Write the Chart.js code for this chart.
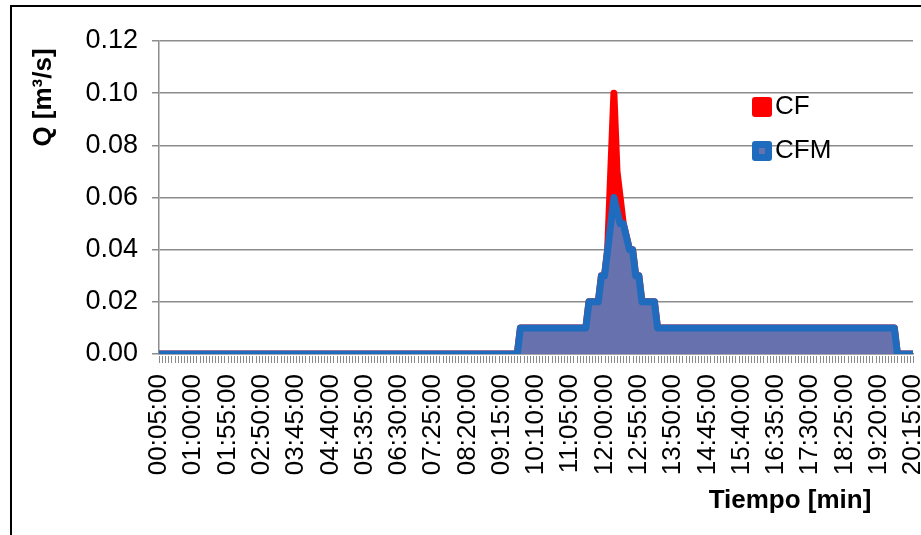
<!DOCTYPE html>
<html>
<head>
<meta charset="utf-8">
<title>Q [m³/s]</title>
<script src="https://cdn.jsdelivr.net/npm/chart.js@4.4.1/dist/chart.umd.min.js"></script>
<style>
  html, body { margin: 0; padding: 0; background: #ffffff; }
  #wrap { width: 921px; height: 535px; }
</style>
</head>
<body>
<div id="wrap"><canvas id="c" width="921" height="535"></canvas></div>
<script>
// ---- data -------------------------------------------------------------
// time axis: every 5 minutes from 00:05:00 to 20:15:00 (243 steps)
const startMinute = 5;
const stepMinutes = 5;
const stepCount = 243;
const times = [];
for (let k = 0; k < stepCount; k++) {
  const m = startMinute + k * stepMinutes;
  const hh = String(Math.floor(m / 60)).padStart(2, '0');
  const mm = String(m % 60).padStart(2, '0');
  times.push(hh + ':' + mm + ':00');
}
const labelEvery = 11;                       // one printed label every 55 min
const qTicks = [0, 0.02, 0.04, 0.06, 0.08, 0.10, 0.12];

// CF series, m³/s
const cf = [
  0,0,0,0,0,0,0,0,0,0,0,0,0,0,0,0,0,0,0,0,
  0,0,0,0,0,0,0,0,0,0,0,0,0,0,0,0,0,0,0,0,
  0,0,0,0,0,0,0,0,0,0,0,0,0,0,0,0,0,0,0,0,
  0,0,0,0,0,0,0,0,0,0,0,0,0,0,0,0,0,0,0,0,
  0,0,0,0,0,0,0,0,0,0,0,0,0,0,0,0,0,0,0,0,
  0,0,0,0,0,0,0,0,0,0,0,0,0,0,0,0,0.01,0.01,0.01,0.01,
  0.01,0.01,0.01,0.01,0.01,0.01,0.01,0.01,0.01,0.01,0.01,0.01,0.01,0.01,0.01,0.01,0.01,0.01,0.02,0.02,
  0.02,0.02,0.03,0.03,0.04,0.07,0.10,0.07,0.06,0.05,0.045,0.04,0.04,0.03,0.03,0.02,0.02,0.02,0.02,0.02,
  0.01,0.01,0.01,0.01,0.01,0.01,0.01,0.01,0.01,0.01,0.01,0.01,0.01,0.01,0.01,0.01,0.01,0.01,0.01,0.01,
  0.01,0.01,0.01,0.01,0.01,0.01,0.01,0.01,0.01,0.01,0.01,0.01,0.01,0.01,0.01,0.01,0.01,0.01,0.01,0.01,
  0.01,0.01,0.01,0.01,0.01,0.01,0.01,0.01,0.01,0.01,0.01,0.01,0.01,0.01,0.01,0.01,0.01,0.01,0.01,0.01,
  0.01,0.01,0.01,0.01,0.01,0.01,0.01,0.01,0.01,0.01,0.01,0.01,0.01,0.01,0.01,0.01,0.01,0,0,0,
  0,0,0
];

// CFM series, m³/s
const cfm = [
  0,0,0,0,0,0,0,0,0,0,0,0,0,0,0,0,0,0,0,0,
  0,0,0,0,0,0,0,0,0,0,0,0,0,0,0,0,0,0,0,0,
  0,0,0,0,0,0,0,0,0,0,0,0,0,0,0,0,0,0,0,0,
  0,0,0,0,0,0,0,0,0,0,0,0,0,0,0,0,0,0,0,0,
  0,0,0,0,0,0,0,0,0,0,0,0,0,0,0,0,0,0,0,0,
  0,0,0,0,0,0,0,0,0,0,0,0,0,0,0,0,0.01,0.01,0.01,0.01,
  0.01,0.01,0.01,0.01,0.01,0.01,0.01,0.01,0.01,0.01,0.01,0.01,0.01,0.01,0.01,0.01,0.01,0.01,0.02,0.02,
  0.02,0.02,0.03,0.03,0.04,0.05,0.06,0.055,0.05,0.05,0.045,0.04,0.04,0.03,0.03,0.02,0.02,0.02,0.02,0.02,
  0.01,0.01,0.01,0.01,0.01,0.01,0.01,0.01,0.01,0.01,0.01,0.01,0.01,0.01,0.01,0.01,0.01,0.01,0.01,0.01,
  0.01,0.01,0.01,0.01,0.01,0.01,0.01,0.01,0.01,0.01,0.01,0.01,0.01,0.01,0.01,0.01,0.01,0.01,0.01,0.01,
  0.01,0.01,0.01,0.01,0.01,0.01,0.01,0.01,0.01,0.01,0.01,0.01,0.01,0.01,0.01,0.01,0.01,0.01,0.01,0.01,
  0.01,0.01,0.01,0.01,0.01,0.01,0.01,0.01,0.01,0.01,0.01,0.01,0.01,0.01,0.01,0.01,0.01,0,0,0,
  0,0,0
];

const seriesNames = ['CF', 'CFM'];
const xTitle = 'Tiempo [min]';
const yTitle = 'Q [m³/s]';

// ---- styling ----------------------------------------------------------
const FONT = '"Liberation Sans", Arial, Helvetica, sans-serif';
Chart.defaults.font.family = FONT;
Chart.defaults.color = '#000000';

const canvas = document.getElementById('c');
const ctx = canvas.getContext('2d');

// fine dotted texture used for the CFM area
function cfmTexture() {
  const p = document.createElement('canvas');
  p.width = 4; p.height = 4;
  const g = p.getContext('2d');
  g.fillStyle = '#6671ad'; g.fillRect(0, 0, 4, 4);
  g.fillStyle = '#5d76b6'; g.fillRect(0, 0, 1, 1); g.fillRect(2, 2, 1, 1);
  g.fillStyle = '#736fa8'; g.fillRect(2, 0, 1, 1); g.fillRect(0, 2, 1, 1);
  return ctx.createPattern(p, 'repeat');
}
const cfmFill = cfmTexture();

// frame, axis titles, category tick marks and the in-plot legend
const decor = {
  id: 'decor',
  beforeDraw(chart) {
    const c = chart.ctx;
    c.save();
    c.fillStyle = '#ffffff';
    c.fillRect(0, 0, chart.width, chart.height);
    c.restore();
  },
  afterDraw(chart) {
    const c = chart.ctx;
    const a = chart.chartArea;
    const xs = chart.scales.x;
    c.save();

    // one small tick below the time axis for every category
    c.strokeStyle = '#8a8a8a';
    c.lineWidth = 1;
    c.beginPath();
    for (let i = 0; i < xs.ticks.length; i++) {
      const px = Math.round(xs.getPixelForTick(i)) + 0.5;
      c.moveTo(px, a.bottom + 2);
      c.lineTo(px, a.bottom + 9);
    }
    c.stroke();

    // outer frame (top and left edges)
    c.strokeStyle = '#000000';
    c.lineWidth = 2;
    c.beginPath();
    c.moveTo(11, chart.height);
    c.lineTo(11, 6);
    c.lineTo(chart.width, 6);
    c.stroke();

    // axis titles
    c.fillStyle = '#000000';
    c.font = 'bold 26px ' + FONT;
    c.textAlign = 'center';
    c.textBaseline = 'alphabetic';
    c.fillText(xTitle, a.right - 123, a.bottom + 154);
    c.save();
    c.translate(51, a.top + 56.5);
    c.rotate(-Math.PI / 2);
    c.fillText(yTitle, 0, 0);
    c.restore();

    // legend
    const boxX = a.left + 593;
    let boxY = a.top + 56;
    c.font = '26px ' + FONT;
    c.textAlign = 'left';
    c.textBaseline = 'middle';
    chart.data.datasets.forEach((ds) => {
      c.fillStyle = ds.borderColor;
      c.beginPath();
      c.roundRect(boxX, boxY, 20, 20, 3);
      c.fill();
      if (ds.backgroundColor !== ds.borderColor) {
        c.fillStyle = ds.backgroundColor;
        c.fillRect(boxX + 7, boxY + 7, 6, 6);
      }
      c.fillStyle = '#000000';
      c.fillText(ds.label, boxX + 23, boxY + 10);
      boxY += 44;
    });
    c.restore();
  }
};

new Chart(ctx, {
  type: 'line',
  data: {
    labels: times,
    datasets: [
      {
        label: seriesNames[0],
        data: cf,
        borderColor: '#ff0000',
        backgroundColor: '#ff0000',
        borderWidth: 7,
        fill: 'origin',
        order: 2,
        pointRadius: 0,
        tension: 0,
        borderJoinStyle: 'round',
        borderCapStyle: 'round',
        clip: 0
      },
      {
        label: seriesNames[1],
        data: cfm,
        borderColor: '#1f6bbd',
        backgroundColor: cfmFill,
        borderWidth: 7,
        fill: 'origin',
        order: 1,
        pointRadius: 0,
        tension: 0,
        borderJoinStyle: 'round',
        borderCapStyle: 'round',
        clip: 0
      }
    ]
  },
  options: {
    responsive: false,
    animation: false,
    events: [],
    layout: { padding: { left: 0, top: 41, right: 8, bottom: 0 } },
    plugins: {
      legend: { display: false },
      tooltip: { enabled: false },
      filler: { drawTime: 'beforeDatasetDraw' }
    },
    scales: {
      x: {
        type: 'category',
        ticks: {
          autoSkip: false,
          minRotation: 90,
          maxRotation: 90,
          padding: 12,
          font: { size: 26 },
          color: '#000000',
          callback(value, index) {
            return index % labelEvery === 0 ? this.getLabelForValue(value) : '';
          }
        },
        grid: { display: false, tickLength: 8 },
        border: { display: true, color: '#8c8c8c', width: 1.5 },
        afterFit(scale) {
          scale.height = 181;
          scale.paddingLeft = 0;
          scale.paddingRight = 0;
        }
      },
      y: {
        min: 0,
        max: 0.12,
        afterBuildTicks(scale) {
          scale.ticks = qTicks.map((v) => ({ value: v }));
        },
        ticks: {
          padding: 14,
          font: { size: 27 },
          color: '#000000',
          callback: (v) => Number(v).toFixed(2)
        },
        grid: {
          color: '#8c8c8c',
          lineWidth: 1.5,
          tickLength: 7,
          drawTicks: true
        },
        border: { display: true, color: '#8c8c8c', width: 1.5 },
        afterFit(scale) {
          scale.width = 159;
          scale.paddingTop = 0;
          scale.paddingBottom = 0;
        }
      }
    }
  },
  plugins: [decor]
});
</script>
</body>
</html>
